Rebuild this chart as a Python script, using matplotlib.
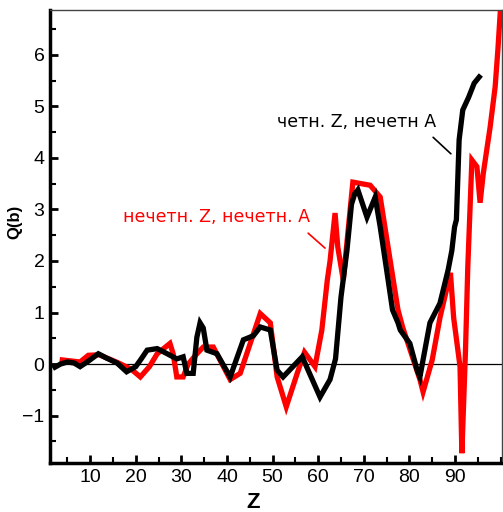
import numpy as np
import matplotlib.pyplot as plt
from matplotlib.ticker import MultipleLocator

# even Z, odd A (black)
z_even = [2.3, 3.5, 5.0, 6.5, 7.8, 9.5, 11.8, 13.5, 15.9, 18.0, 20.0, 21.2, 22.5, 24.7, 26.9,
          29.0, 30.4, 31.2, 32.6, 33.4, 34.1, 34.8, 35.6, 37.8, 40.7, 43.6, 45.8, 47.3, 49.5,
          51.0, 52.3, 56.5, 60.4, 62.6, 63.8, 65.0, 66.3, 67.3, 68.0, 68.7, 70.7, 72.5, 73.6,
          75.0, 76.3, 77.5, 78.0, 80.1, 81.7, 82.3, 84.5, 86.7, 88.5, 89.3, 89.9, 90.3, 90.6,
          90.9, 91.7, 93.0, 94.2, 95.3]
q_even = [-0.06, 0.0, 0.04, 0.02, -0.05, 0.05, 0.2, 0.12, 0.02, -0.15, -0.05, 0.1, 0.27, 0.3,
          0.2, 0.1, 0.14, -0.18, -0.18, 0.52, 0.8, 0.7, 0.27, 0.2, -0.25, 0.47, 0.55, 0.72, 0.66,
          -0.12, -0.25, 0.14, -0.64, -0.3, 0.1, 1.3, 2.2, 3.1, 3.3, 3.38, 2.85, 3.24, 2.66,
          1.83, 1.05, 0.8, 0.66, 0.4, -0.12, -0.25, 0.8, 1.18, 1.83, 2.2, 2.66, 2.8, 3.57,
          4.35, 4.93, 5.18, 5.45, 5.57]

# odd Z, odd A (red)
z_odd = [3.9, 7.8, 9.6, 12.0, 16.0, 19.0, 21.0, 23.0, 24.7, 27.5, 28.2, 29.0, 30.4, 31.5,
         33.4, 34.8, 37.0, 40.7, 42.9, 47.3, 49.5, 51.0, 53.0, 55.4, 57.0, 59.3, 60.8, 62.0,
         62.6, 63.7, 64.3, 65.5, 67.6, 71.4, 73.6, 75.8, 77.5, 78.5, 82.3, 83.0, 85.0, 86.7,
         89.0, 89.7, 91.1, 91.5, 92.3, 92.8, 93.7, 94.8, 95.5, 96.2, 97.7, 98.8, 99.4, 99.9]
q_odd = [0.08, 0.04, 0.17, 0.18, 0.03, -0.1, -0.25, -0.05, 0.2, 0.4, 0.2, -0.25, -0.25, 0.0,
         0.2, 0.33, 0.33, -0.3, -0.18, 0.98, 0.8, -0.25, -0.83, -0.18, 0.23, -0.05, 0.66, 1.63,
         2.0, 2.93, 2.27, 1.63, 3.53, 3.47, 3.24, 2.0, 1.05, 0.72, -0.3, -0.54, 0.08, 0.9,
         1.77, 0.9, -0.05, -1.73, 0.27, 1.88, 3.96, 3.83, 3.13, 3.7, 4.6, 5.38, 6.1, 6.8]

plt.rcParams['font.family'] = ['Liberation Sans', 'DejaVu Sans']

fig = plt.figure(figsize=(5.03, 5.12), dpi=100)
ax = fig.add_axes([0.0994, 0.0957, 0.8986, 0.8847])

ax.axhline(0, color='black', lw=0.9, zorder=1)
ax.plot(z_odd, q_odd, color='#ff0000', lw=3.8, solid_joinstyle='miter', zorder=2)
ax.plot(z_even, q_even, color='black', lw=3.8, solid_joinstyle='miter', zorder=3)

ax.set_xlim(1.2, 100.3)
ax.set_ylim(-1.92, 6.87)
ax.xaxis.set_minor_locator(MultipleLocator(5))
ax.yaxis.set_minor_locator(MultipleLocator(0.5))
ax.set_xticks([10, 20, 30, 40, 50, 60, 70, 80, 90])
ax.set_yticks([-1, 0, 1, 2, 3, 4, 5, 6])

ax.tick_params(which='major', direction='in', length=6, width=2, labelsize=14, pad=4)
ax.tick_params(which='minor', direction='in', length=4, width=1.5)
ax.tick_params(top=False, right=False, which='both')

ax.spines['left'].set_linewidth(2.5)
ax.spines['bottom'].set_linewidth(2.5)
ax.spines['top'].set_linewidth(1.0)
ax.spines['right'].set_linewidth(1.0)
ax.spines['top'].set_color('#444444')
ax.spines['right'].set_color('#444444')

ax.set_xlabel('Z', fontsize=16, fontweight='bold')
ax.set_ylabel('Q(b)', fontsize=12, fontweight='bold')
ax.xaxis.set_label_coords(0.45, -0.064)
ax.yaxis.set_label_coords(-0.062, 0.532)

# labels with leader lines
ax.text(68.5, 4.7, 'четн. Z, нечетн A', fontsize=12.5, color='black',
        ha='center', va='center', family=['DejaVu Sans'])
ax.annotate('', xy=(89.1, 4.08), xytext=(85.2, 4.4),
            arrowprops=dict(arrowstyle='-', color='black', lw=1.2, shrinkA=0, shrinkB=0))
ax.text(37.8, 2.85, 'нечетн. Z, нечетн. A', fontsize=12.5, color='#ff0000',
        ha='center', va='center', family=['DejaVu Sans'])
ax.annotate('', xy=(61.5, 2.25), xytext=(57.8, 2.54),
            arrowprops=dict(arrowstyle='-', color='#ff0000', lw=1.2, shrinkA=0, shrinkB=0))

fig.savefig('out.png', dpi=100)
